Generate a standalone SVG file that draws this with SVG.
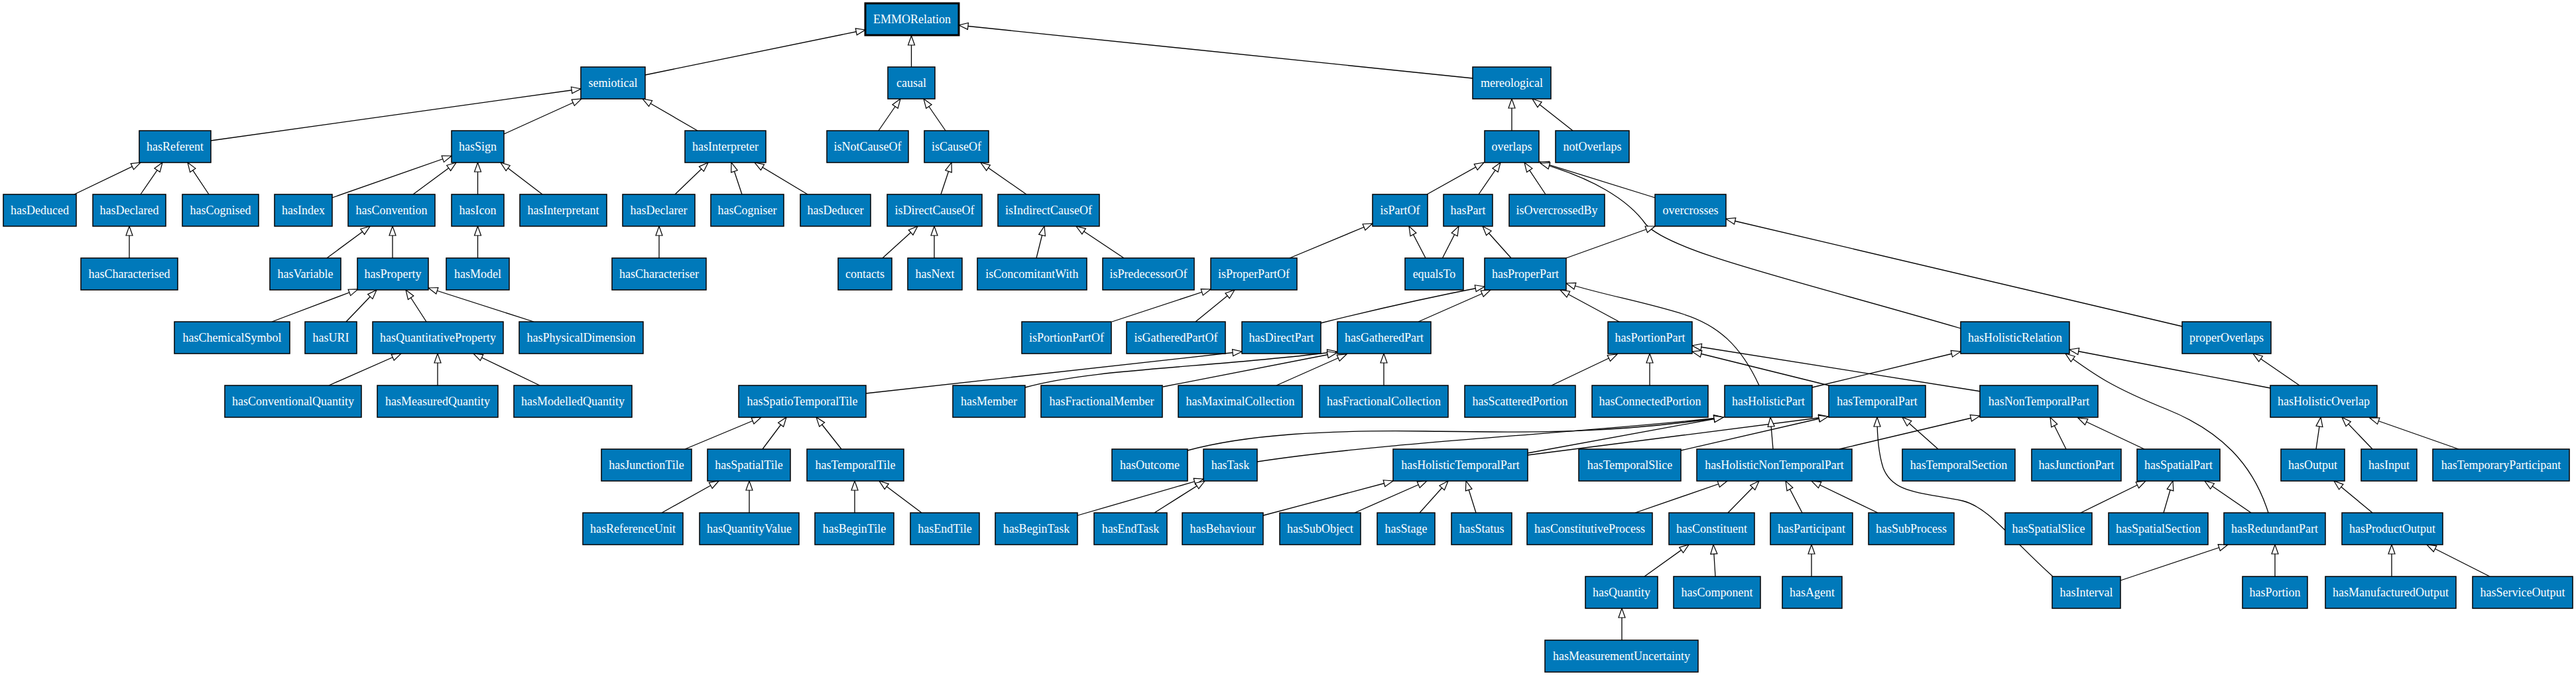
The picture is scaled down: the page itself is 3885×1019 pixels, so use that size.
<svg xmlns="http://www.w3.org/2000/svg" width="3885" height="1019" viewBox="0 0 3885 1019">
<style>
.node rect{fill:#0079BA;stroke:#000;stroke-width:1.5}
.node text{font-family:"Liberation Serif","Times New Roman",serif;font-size:18px;fill:#fff;text-anchor:middle}
#EMMORelation rect{stroke-width:3}
.e{fill:none;stroke:#000;stroke-width:1.3;marker-end:url(#arr)}
</style>
<defs>
<marker id="arr" markerUnits="userSpaceOnUse" markerWidth="16" markerHeight="12" refX="14" refY="5" orient="auto" overflow="visible">
<path d="M0,0 L14,5 L0,10 Z" fill="#fff" stroke="#000" stroke-width="1.2"/>
</marker>
</defs>
<rect width="3885" height="1019" fill="#fff"/>
<g id="connectors">
<path class="e" d="M973,113 L1305,45"/>
<path class="e" d="M1374.5,101 L1374.5,54"/>
<path class="e" d="M2221,118 L1446,38"/>
<path class="e" d="M318,212 L876,134"/>
<path class="e" d="M760,202 L877,149"/>
<path class="e" d="M1052,197 L969,149"/>
<path class="e" d="M1325,197 L1358,149"/>
<path class="e" d="M1426,197 L1393,149"/>
<path class="e" d="M2280,197 L2280,149"/>
<path class="e" d="M2372,197 L2311,149"/>
<path class="e" d="M112,293 L212,245"/>
<path class="e" d="M212,293 L245,245"/>
<path class="e" d="M315,293 L283,245"/>
<path class="e" d="M501,298 L681,235"/>
<path class="e" d="M623,293 L688,245"/>
<path class="e" d="M720.5,293 L720.5,245"/>
<path class="e" d="M818,293 L755,245"/>
<path class="e" d="M1018,293 L1068,245"/>
<path class="e" d="M1119,293 L1103,245"/>
<path class="e" d="M1218,293 L1138,245"/>
<path class="e" d="M1419,293 L1435,245"/>
<path class="e" d="M1548,293 L1479,245"/>
<path class="e" d="M2152,293 L2238,245"/>
<path class="e" d="M2230,293 L2263,245"/>
<path class="e" d="M2331,293 L2299,245"/>
<path class="e" d="M2496,298 L2322,244"/>
<path class="e" d="M2957,495 C2700,420 2520,380 2482,338 C2455,300 2400,268 2323,246"/>
<path class="e" d="M2362,389 L2496,341"/>
<path class="e" d="M3291,492 L2603,330"/>
<path class="e" d="M1945,389 L2070,337"/>
<path class="e" d="M2150,389 L2125,341"/>
<path class="e" d="M2175.5,389 L2200,341"/>
<path class="e" d="M2279,389 L2236,341"/>
<path class="e" d="M195,389 L195,341"/>
<path class="e" d="M493,389 L558,341"/>
<path class="e" d="M592,389 L592,341"/>
<path class="e" d="M720.5,389 L720.5,341"/>
<path class="e" d="M994,389 L994,341"/>
<path class="e" d="M1331,389 L1384,341"/>
<path class="e" d="M1409,389 L1409,341"/>
<path class="e" d="M1563,389 L1575,341"/>
<path class="e" d="M1695,389 L1623,341"/>
<path class="e" d="M410,485 L540,436"/>
<path class="e" d="M522,485 L568,437"/>
<path class="e" d="M643,485 L612,437"/>
<path class="e" d="M805,485 L646,434"/>
<path class="e" d="M496,581 L605,533"/>
<path class="e" d="M660,581 L660,533"/>
<path class="e" d="M814,581 L714,533"/>
<path class="e" d="M1677,485 L1826,436"/>
<path class="e" d="M1803,485 L1862,437"/>
<path class="e" d="M1992,487 Q2120,455 2239,432"/>
<path class="e" d="M2139,485 L2248,437"/>
<path class="e" d="M2442,485 L2353,437"/>
<path class="e" d="M2653,581 C2625,520 2590,490 2540,474 C2480,455 2420,445 2362,427"/>
<path class="e" d="M1306,593 L1873,530"/>
<path class="e" d="M1546,584 C1650,555 1820,555 2016,530"/>
<path class="e" d="M1754,583 L2016,532"/>
<path class="e" d="M1925,581 L2031,534"/>
<path class="e" d="M2087,581 L2087,533"/>
<path class="e" d="M2340,581 L2439,534"/>
<path class="e" d="M2488,581 L2488,533"/>
<path class="e" d="M2758,581 L2552,530"/>
<path class="e" d="M2987,590 L2552,521"/>
<path class="e" d="M2733,584 L2957,530"/>
<path class="e" d="M3424,585 L3121,527"/>
<path class="e" d="M3421,773 C3398,700 3350,650 3268,617 S3160,566 3115,533"/>
<path class="e" d="M3468,581 L3398,533"/>
<path class="e" d="M1033,677 L1148,629"/>
<path class="e" d="M1150,677 L1186,629"/>
<path class="e" d="M1269,677 L1231,629"/>
<path class="e" d="M1791,679 C1880,655 2000,648 2150,650 C2300,652 2420,655 2599,629"/>
<path class="e" d="M1896,696 C2100,665 2400,652 2599,629"/>
<path class="e" d="M1625,777 L1815,722"/>
<path class="e" d="M1741,773 L1817,725"/>
<path class="e" d="M1905,777 L2101,725"/>
<path class="e" d="M2043,773 L2152,725"/>
<path class="e" d="M2141,773 L2184,725"/>
<path class="e" d="M2226,773 L2211,725"/>
<path class="e" d="M2304,683 L2599,629"/>
<path class="e" d="M2304,686 L2757,628"/>
<path class="e" d="M2535,679 L2757,628"/>
<path class="e" d="M2674,677 L2670,629"/>
<path class="e" d="M2774,677 L2986,627"/>
<path class="e" d="M2923,677 L2869,629"/>
<path class="e" d="M3096,869 C3030,810 3000,765 2960,755 C2900,742 2855,745 2840,705 C2832,680 2831,650 2831,629"/>
<path class="e" d="M3116,677 L3092,629"/>
<path class="e" d="M3234,677 L3134,630"/>
<path class="e" d="M3493,677 L3500,629"/>
<path class="e" d="M3578,677 L3532,629"/>
<path class="e" d="M3708,677 L3574,630"/>
<path class="e" d="M2466,773 L2605,725"/>
<path class="e" d="M2606,773 L2653,725"/>
<path class="e" d="M2718,773 L2693,725"/>
<path class="e" d="M2832,773 L2732,725"/>
<path class="e" d="M2480,869 L2547,821"/>
<path class="e" d="M2587,869 L2584,821"/>
<path class="e" d="M2732,869 L2732,821"/>
<path class="e" d="M2446,965 L2446,917"/>
<path class="e" d="M3138,773 L3236,725"/>
<path class="e" d="M3263,773 L3277,725"/>
<path class="e" d="M3395,773 L3325,725"/>
<path class="e" d="M3578,773 L3520,725"/>
<path class="e" d="M3198,875 L3360,821"/>
<path class="e" d="M3431,869 L3431,821"/>
<path class="e" d="M3607,869 L3607,821"/>
<path class="e" d="M3755,869 L3660,821"/>
<path class="e" d="M998,773 L1084,725"/>
<path class="e" d="M1130,773 L1130,725"/>
<path class="e" d="M1289,773 L1289,725"/>
<path class="e" d="M1390,773 L1326,725"/>
</g>
<g id="EMMORelation" class="node"><rect x="1305" y="5" width="141" height="48"/><text x="1375.5" y="35">EMMORelation</text></g>
<g id="semiotical" class="node"><rect x="876" y="101" width="97" height="48"/><text x="924.5" y="131">semiotical</text></g>
<g id="causal" class="node"><rect x="1339" y="101" width="71" height="48"/><text x="1374.5" y="131">causal</text></g>
<g id="mereological" class="node"><rect x="2221" y="101" width="118" height="48"/><text x="2280" y="131">mereological</text></g>
<g id="hasReferent" class="node"><rect x="210" y="197" width="108" height="48"/><text x="264" y="227">hasReferent</text></g>
<g id="hasSign" class="node"><rect x="681" y="197" width="79" height="48"/><text x="720.5" y="227">hasSign</text></g>
<g id="hasInterpreter" class="node"><rect x="1033" y="197" width="122" height="48"/><text x="1094" y="227">hasInterpreter</text></g>
<g id="isNotCauseOf" class="node"><rect x="1247" y="197" width="123" height="48"/><text x="1308.5" y="227">isNotCauseOf</text></g>
<g id="isCauseOf" class="node"><rect x="1394" y="197" width="97" height="48"/><text x="1442.5" y="227">isCauseOf</text></g>
<g id="overlaps" class="node"><rect x="2239" y="197" width="82" height="48"/><text x="2280" y="227">overlaps</text></g>
<g id="notOverlaps" class="node"><rect x="2346" y="197" width="111" height="48"/><text x="2401.5" y="227">notOverlaps</text></g>
<g id="hasDeduced" class="node"><rect x="5" y="293" width="110" height="48"/><text x="60" y="323">hasDeduced</text></g>
<g id="hasDeclared" class="node"><rect x="140" y="293" width="110" height="48"/><text x="195" y="323">hasDeclared</text></g>
<g id="hasCognised" class="node"><rect x="275" y="293" width="115" height="48"/><text x="332.5" y="323">hasCognised</text></g>
<g id="hasIndex" class="node"><rect x="414" y="293" width="87" height="48"/><text x="457.5" y="323">hasIndex</text></g>
<g id="hasConvention" class="node"><rect x="525" y="293" width="131" height="48"/><text x="590.5" y="323">hasConvention</text></g>
<g id="hasIcon" class="node"><rect x="681" y="293" width="79" height="48"/><text x="720.5" y="323">hasIcon</text></g>
<g id="hasInterpretant" class="node"><rect x="784" y="293" width="131" height="48"/><text x="849.5" y="323">hasInterpretant</text></g>
<g id="hasDeclarer" class="node"><rect x="939" y="293" width="109" height="48"/><text x="993.5" y="323">hasDeclarer</text></g>
<g id="hasCogniser" class="node"><rect x="1072" y="293" width="110" height="48"/><text x="1127" y="323">hasCogniser</text></g>
<g id="hasDeducer" class="node"><rect x="1207" y="293" width="106" height="48"/><text x="1260" y="323">hasDeducer</text></g>
<g id="isDirectCauseOf" class="node"><rect x="1338" y="293" width="143" height="48"/><text x="1409.5" y="323">isDirectCauseOf</text></g>
<g id="isIndirectCauseOf" class="node"><rect x="1505" y="293" width="153" height="48"/><text x="1581.5" y="323">isIndirectCauseOf</text></g>
<g id="isPartOf" class="node"><rect x="2070" y="293" width="83" height="48"/><text x="2111.5" y="323">isPartOf</text></g>
<g id="hasPart" class="node"><rect x="2177" y="293" width="74" height="48"/><text x="2214" y="323">hasPart</text></g>
<g id="isOvercrossedBy" class="node"><rect x="2276" y="293" width="144" height="48"/><text x="2348" y="323">isOvercrossedBy</text></g>
<g id="overcrosses" class="node"><rect x="2496" y="293" width="107" height="48"/><text x="2549.5" y="323">overcrosses</text></g>
<g id="hasCharacterised" class="node"><rect x="122" y="389" width="146" height="48"/><text x="195" y="419">hasCharacterised</text></g>
<g id="hasVariable" class="node"><rect x="407" y="389" width="107" height="48"/><text x="460.5" y="419">hasVariable</text></g>
<g id="hasProperty" class="node"><rect x="539" y="389" width="107" height="48"/><text x="592.5" y="419">hasProperty</text></g>
<g id="hasModel" class="node"><rect x="673" y="389" width="95" height="48"/><text x="720.5" y="419">hasModel</text></g>
<g id="hasCharacteriser" class="node"><rect x="923" y="389" width="142" height="48"/><text x="994" y="419">hasCharacteriser</text></g>
<g id="contacts" class="node"><rect x="1264" y="389" width="81" height="48"/><text x="1304.5" y="419">contacts</text></g>
<g id="hasNext" class="node"><rect x="1369" y="389" width="82" height="48"/><text x="1410" y="419">hasNext</text></g>
<g id="isConcomitantWith" class="node"><rect x="1474" y="389" width="165" height="48"/><text x="1556.5" y="419">isConcomitantWith</text></g>
<g id="isPredecessorOf" class="node"><rect x="1663" y="389" width="138" height="48"/><text x="1732" y="419">isPredecessorOf</text></g>
<g id="isProperPartOf" class="node"><rect x="1826" y="389" width="130" height="48"/><text x="1891" y="419">isProperPartOf</text></g>
<g id="equalsTo" class="node"><rect x="2119" y="389" width="88" height="48"/><text x="2163" y="419">equalsTo</text></g>
<g id="hasProperPart" class="node"><rect x="2239" y="389" width="123" height="48"/><text x="2300.5" y="419">hasProperPart</text></g>
<g id="hasChemicalSymbol" class="node"><rect x="263" y="485" width="174" height="48"/><text x="350" y="515">hasChemicalSymbol</text></g>
<g id="hasURI" class="node"><rect x="460" y="485" width="78" height="48"/><text x="499" y="515">hasURI</text></g>
<g id="hasQuantitativeProperty" class="node"><rect x="562" y="485" width="197" height="48"/><text x="660.5" y="515">hasQuantitativeProperty</text></g>
<g id="hasPhysicalDimension" class="node"><rect x="783" y="485" width="187" height="48"/><text x="876.5" y="515">hasPhysicalDimension</text></g>
<g id="isPortionPartOf" class="node"><rect x="1541" y="485" width="135" height="48"/><text x="1608.5" y="515">isPortionPartOf</text></g>
<g id="isGatheredPartOf" class="node"><rect x="1699" y="485" width="149" height="48"/><text x="1773.5" y="515">isGatheredPartOf</text></g>
<g id="hasDirectPart" class="node"><rect x="1873" y="485" width="119" height="48"/><text x="1932.5" y="515">hasDirectPart</text></g>
<g id="hasGatheredPart" class="node"><rect x="2017" y="485" width="141" height="48"/><text x="2087.5" y="515">hasGatheredPart</text></g>
<g id="hasPortionPart" class="node"><rect x="2425" y="485" width="127" height="48"/><text x="2488.5" y="515">hasPortionPart</text></g>
<g id="hasHolisticRelation" class="node"><rect x="2957" y="485" width="164" height="48"/><text x="3039" y="515">hasHolisticRelation</text></g>
<g id="properOverlaps" class="node"><rect x="3291" y="485" width="134" height="48"/><text x="3358" y="515">properOverlaps</text></g>
<g id="hasConventionalQuantity" class="node"><rect x="339" y="581" width="206" height="48"/><text x="442" y="611">hasConventionalQuantity</text></g>
<g id="hasMeasuredQuantity" class="node"><rect x="569" y="581" width="182" height="48"/><text x="660" y="611">hasMeasuredQuantity</text></g>
<g id="hasModelledQuantity" class="node"><rect x="775" y="581" width="178" height="48"/><text x="864" y="611">hasModelledQuantity</text></g>
<g id="hasSpatioTemporalTile" class="node"><rect x="1114" y="581" width="192" height="48"/><text x="1210" y="611">hasSpatioTemporalTile</text></g>
<g id="hasMember" class="node"><rect x="1437" y="581" width="109" height="48"/><text x="1491.5" y="611">hasMember</text></g>
<g id="hasFractionalMember" class="node"><rect x="1570" y="581" width="183" height="48"/><text x="1661.5" y="611">hasFractionalMember</text></g>
<g id="hasMaximalCollection" class="node"><rect x="1777" y="581" width="187" height="48"/><text x="1870.5" y="611">hasMaximalCollection</text></g>
<g id="hasFractionalCollection" class="node"><rect x="1990" y="581" width="194" height="48"/><text x="2087" y="611">hasFractionalCollection</text></g>
<g id="hasScatteredPortion" class="node"><rect x="2209" y="581" width="167" height="48"/><text x="2292.5" y="611">hasScatteredPortion</text></g>
<g id="hasConnectedPortion" class="node"><rect x="2401" y="581" width="175" height="48"/><text x="2488.5" y="611">hasConnectedPortion</text></g>
<g id="hasHolisticPart" class="node"><rect x="2601" y="581" width="132" height="48"/><text x="2667" y="611">hasHolisticPart</text></g>
<g id="hasTemporalPart" class="node"><rect x="2758" y="581" width="146" height="48"/><text x="2831" y="611">hasTemporalPart</text></g>
<g id="hasNonTemporalPart" class="node"><rect x="2986" y="581" width="178" height="48"/><text x="3075" y="611">hasNonTemporalPart</text></g>
<g id="hasHolisticOverlap" class="node"><rect x="3424" y="581" width="161" height="48"/><text x="3504.5" y="611">hasHolisticOverlap</text></g>
<g id="hasJunctionTile" class="node"><rect x="907" y="677" width="136" height="48"/><text x="975" y="707">hasJunctionTile</text></g>
<g id="hasSpatialTile" class="node"><rect x="1067" y="677" width="125" height="48"/><text x="1129.5" y="707">hasSpatialTile</text></g>
<g id="hasTemporalTile" class="node"><rect x="1217" y="677" width="146" height="48"/><text x="1290" y="707">hasTemporalTile</text></g>
<g id="hasOutcome" class="node"><rect x="1677" y="677" width="114" height="48"/><text x="1734" y="707">hasOutcome</text></g>
<g id="hasTask" class="node"><rect x="1815" y="677" width="81" height="48"/><text x="1855.5" y="707">hasTask</text></g>
<g id="hasHolisticTemporalPart" class="node"><rect x="2101" y="677" width="203" height="48"/><text x="2202.5" y="707">hasHolisticTemporalPart</text></g>
<g id="hasTemporalSlice" class="node"><rect x="2381" y="677" width="154" height="48"/><text x="2458" y="707">hasTemporalSlice</text></g>
<g id="hasHolisticNonTemporalPart" class="node"><rect x="2559" y="677" width="234" height="48"/><text x="2676" y="707">hasHolisticNonTemporalPart</text></g>
<g id="hasTemporalSection" class="node"><rect x="2869" y="677" width="170" height="48"/><text x="2954" y="707">hasTemporalSection</text></g>
<g id="hasJunctionPart" class="node"><rect x="3064" y="677" width="135" height="48"/><text x="3131.5" y="707">hasJunctionPart</text></g>
<g id="hasSpatialPart" class="node"><rect x="3223" y="677" width="125" height="48"/><text x="3285.5" y="707">hasSpatialPart</text></g>
<g id="hasOutput" class="node"><rect x="3440" y="677" width="96" height="48"/><text x="3488" y="707">hasOutput</text></g>
<g id="hasInput" class="node"><rect x="3561" y="677" width="84" height="48"/><text x="3603" y="707">hasInput</text></g>
<g id="hasTemporaryParticipant" class="node"><rect x="3669" y="677" width="206" height="48"/><text x="3772" y="707">hasTemporaryParticipant</text></g>
<g id="hasReferenceUnit" class="node"><rect x="879" y="773" width="151" height="48"/><text x="954.5" y="803">hasReferenceUnit</text></g>
<g id="hasQuantityValue" class="node"><rect x="1055" y="773" width="150" height="48"/><text x="1130" y="803">hasQuantityValue</text></g>
<g id="hasBeginTile" class="node"><rect x="1229" y="773" width="119" height="48"/><text x="1288.5" y="803">hasBeginTile</text></g>
<g id="hasEndTile" class="node"><rect x="1373" y="773" width="104" height="48"/><text x="1425" y="803">hasEndTile</text></g>
<g id="hasBeginTask" class="node"><rect x="1501" y="773" width="124" height="48"/><text x="1563" y="803">hasBeginTask</text></g>
<g id="hasEndTask" class="node"><rect x="1650" y="773" width="110" height="48"/><text x="1705" y="803">hasEndTask</text></g>
<g id="hasBehaviour" class="node"><rect x="1783" y="773" width="122" height="48"/><text x="1844" y="803">hasBehaviour</text></g>
<g id="hasSubObject" class="node"><rect x="1930" y="773" width="122" height="48"/><text x="1991" y="803">hasSubObject</text></g>
<g id="hasStage" class="node"><rect x="2077" y="773" width="87" height="48"/><text x="2120.5" y="803">hasStage</text></g>
<g id="hasStatus" class="node"><rect x="2189" y="773" width="91" height="48"/><text x="2234.5" y="803">hasStatus</text></g>
<g id="hasConstitutiveProcess" class="node"><rect x="2303" y="773" width="189" height="48"/><text x="2397.5" y="803">hasConstitutiveProcess</text></g>
<g id="hasConstituent" class="node"><rect x="2517" y="773" width="129" height="48"/><text x="2581.5" y="803">hasConstituent</text></g>
<g id="hasParticipant" class="node"><rect x="2670" y="773" width="124" height="48"/><text x="2732" y="803">hasParticipant</text></g>
<g id="hasSubProcess" class="node"><rect x="2818" y="773" width="129" height="48"/><text x="2882.5" y="803">hasSubProcess</text></g>
<g id="hasSpatialSlice" class="node"><rect x="3024" y="773" width="131" height="48"/><text x="3089.5" y="803">hasSpatialSlice</text></g>
<g id="hasSpatialSection" class="node"><rect x="3180" y="773" width="150" height="48"/><text x="3255" y="803">hasSpatialSection</text></g>
<g id="hasRedundantPart" class="node"><rect x="3354" y="773" width="153" height="48"/><text x="3430.5" y="803">hasRedundantPart</text></g>
<g id="hasProductOutput" class="node"><rect x="3532" y="773" width="152" height="48"/><text x="3608" y="803">hasProductOutput</text></g>
<g id="hasQuantity" class="node"><rect x="2391" y="869" width="109" height="48"/><text x="2445.5" y="899">hasQuantity</text></g>
<g id="hasComponent" class="node"><rect x="2524" y="869" width="131" height="48"/><text x="2589.5" y="899">hasComponent</text></g>
<g id="hasAgent" class="node"><rect x="2688" y="869" width="90" height="48"/><text x="2733" y="899">hasAgent</text></g>
<g id="hasInterval" class="node"><rect x="3095" y="869" width="103" height="48"/><text x="3146.5" y="899">hasInterval</text></g>
<g id="hasPortion" class="node"><rect x="3382" y="869" width="98" height="48"/><text x="3431" y="899">hasPortion</text></g>
<g id="hasManufacturedOutput" class="node"><rect x="3507" y="869" width="197" height="48"/><text x="3605.5" y="899">hasManufacturedOutput</text></g>
<g id="hasServiceOutput" class="node"><rect x="3729" y="869" width="151" height="48"/><text x="3804.5" y="899">hasServiceOutput</text></g>
<g id="hasMeasurementUncertainty" class="node"><rect x="2330" y="965" width="231" height="48"/><text x="2445.5" y="995">hasMeasurementUncertainty</text></g>
</svg>
